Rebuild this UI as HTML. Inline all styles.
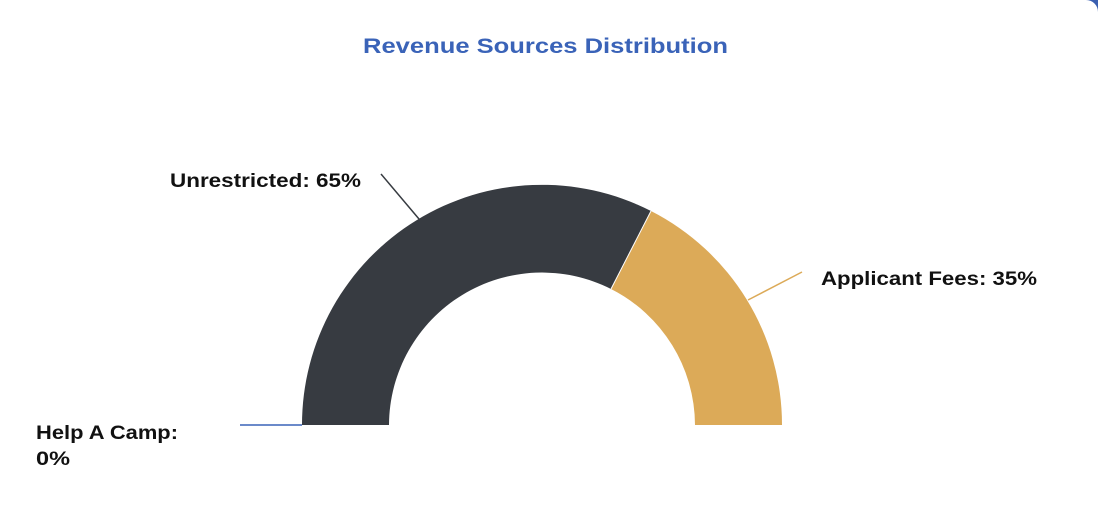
<!DOCTYPE html>
<html><head><style>
html,body{margin:0;padding:0;background:#fff;}
body{width:1098px;height:511px;position:relative;overflow:hidden;font-family:"Liberation Sans",Arial,sans-serif;}
</style></head><body>
<svg width="1098" height="511" viewBox="0 0 1098 511" xmlns="http://www.w3.org/2000/svg">
<path d="M1086 0 H1098 V12 A12 12 0 0 0 1086 0 Z" fill="#3a5fb0"/>
<text x="363" y="53" textLength="365" lengthAdjust="spacingAndGlyphs" font-family="Liberation Sans, Arial, sans-serif" font-weight="bold" font-size="21" fill="#3a63b8">Revenue Sources Distribution</text>
<path d="M302 425 A240 240 0 0 1 651 211 L611 289 A153 153 0 0 0 389 425 Z" fill="#373b41"/>
<path d="M651 211 A240 240 0 0 1 782 425 L695 425 A153 153 0 0 0 611 289 Z" fill="#dcaa58"/>
<line x1="651" y1="211" x2="611" y2="289" stroke="#fff" stroke-width="1"/>
<line x1="381" y1="174" x2="419" y2="219" stroke="#373b41" stroke-width="1.5"/>
<line x1="748" y1="300" x2="802" y2="272" stroke="#dcaa58" stroke-width="1.5"/>
<line x1="240" y1="425" x2="302" y2="425" stroke="#3a63b8" stroke-width="1.5"/>
<g font-family="Liberation Sans, Arial, sans-serif" font-weight="bold" font-size="19" fill="#111" lengthAdjust="spacingAndGlyphs">
<text x="170" y="187" textLength="191" lengthAdjust="spacingAndGlyphs">Unrestricted: 65%</text>
<text x="821" y="285" textLength="216" lengthAdjust="spacingAndGlyphs">Applicant Fees: 35%</text>
<text x="36" y="439" textLength="142" lengthAdjust="spacingAndGlyphs">Help A Camp:</text>
<text x="36" y="465" textLength="34" lengthAdjust="spacingAndGlyphs">0%</text>
</g>
</svg>
</body></html>
